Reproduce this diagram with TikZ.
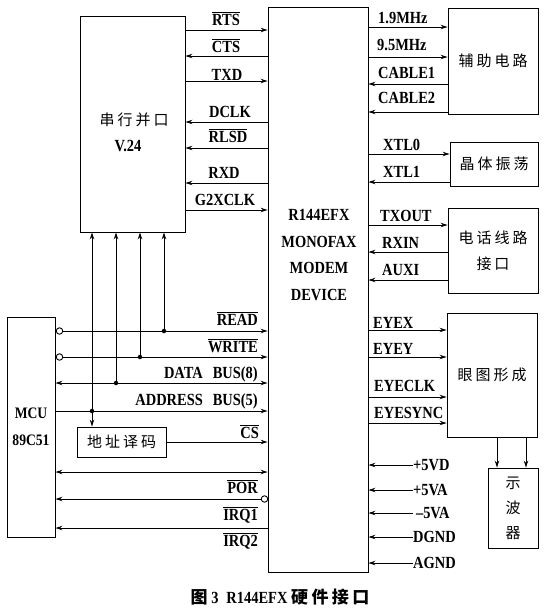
\documentclass[tikz,border=0pt]{standalone}
\usepackage{fontspec}
\setmainfont[FakeStretch=0.85]{Liberation Serif}
\newfontfamily\cjk[LetterSpace=20]{Noto Sans CJK SC}
\usetikzlibrary{arrows.meta, positioning}
\newcommand{\negsig}[1]{$\overline{\mbox{#1}}$}
\tikzset{
	blk/.style={rectangle, draw, line width=0.9pt, inner sep=0pt},
	cn/.style={font=\fontsize{15}{26}\selectfont\cjk, align=center, inner sep=0pt},
	txt/.style={font=\fontsize{17}{26.7}\selectfont\bfseries, align=center, inner sep=0pt},
	lbl/.style={font=\fontsize{17}{18}\selectfont\bfseries, inner sep=0pt},
	arr/.style={-{Stealth[length=7pt, width=4.5pt]}, line width=0.9pt},
	dbl/.style={{Stealth[length=7pt, width=4.5pt]}-{Stealth[length=7pt, width=4.5pt]}, line width=0.9pt},
	bubble/.style={circle, draw, line width=0.9pt, fill=white, minimum size=6.5pt, inner sep=0pt},
	jdot/.style={circle, fill, minimum size=4.5pt, inner sep=0pt},
}
\begin{document}
\begin{tikzpicture}[x=1pt, y=-1pt]
		\useasboundingbox (0,0) rectangle (546,611);
		\node[blk, minimum width=105pt, minimum height=216pt] (ser) at (132.5,124) {};
		\node[cn] (sertxt) at (134,120) {串行并口};
		\node[txt] (v24) at (128,146) {V.24};
		\node[blk, minimum width=100pt, minimum height=565pt] (modem) at (318,289.5) {};
		\node[txt] (modemtxt) at (319,255) {R144EFX\\MONOFAX\\MODEM\\DEVICE};
		\node[blk, cn, minimum width=90pt, minimum height=106pt] (aux) at (493,61) {辅助电路};
		\node[blk, cn, minimum width=88pt, minimum height=44pt] (xtal) at (494,164) {晶体振荡};
		\node[blk, cn, minimum width=90pt, minimum height=85pt] (phone) at (493,250.5) {电话线路\\接口};
		\node[blk, cn, minimum width=90pt, minimum height=124pt] (eye) at (492,375) {眼图形成};
		\node[blk, cn, font=\fontsize{15}{25}\selectfont\cjk, minimum width=50pt, minimum height=80pt] (scope) at (513,508) {示\\波\\器};
		\node[blk, txt, font=\fontsize{16}{27}\selectfont\bfseries, minimum width=48pt, minimum height=220pt] (mcu) at (31,427) {MCU\\89C51};
		\node[blk, cn, minimum width=89pt, minimum height=30pt] (dec) at (121.5,442) {地址译码};
		\draw[arr] (ser.east |- 0,30) -- (modem.west |- 0,30);
		\draw[arr] (modem.west |- 0,56) -- (ser.east |- 0,56);
		\draw[arr] (ser.east |- 0,81) -- (modem.west |- 0,81);
		\draw[arr] (modem.west |- 0,122) -- (ser.east |- 0,122);
		\draw[arr] (modem.west |- 0,148) -- (ser.east |- 0,148);
		\draw[arr] (modem.west |- 0,183) -- (ser.east |- 0,183);
		\draw[arr] (ser.east |- 0,210) -- (modem.west |- 0,210);
		\node[lbl, anchor=base] (lrts) at (226,25) {\negsig{RTS}};
		\node[lbl, anchor=base] (lcts) at (226,52) {\negsig{CTS}};
		\node[lbl, anchor=base] (ltxd) at (227,80) {TXD};
		\node[lbl, anchor=base] (ldclk) at (230,117) {DCLK};
		\node[lbl, anchor=base] (lrlsd) at (228,142) {\negsig{RLSD}};
		\node[lbl, anchor=base] (lrxd) at (224,178) {RXD};
		\node[lbl, anchor=base] (lg2x) at (225,205) {G2XCLK};
		\draw[arr] (modem.east |- 0,27) -- (aux.west |- 0,27);
		\draw[arr] (modem.east |- 0,57) -- (aux.west |- 0,57);
		\draw[arr] (aux.west |- 0,84) -- (modem.east |- 0,84);
		\draw[arr] (aux.west |- 0,112) -- (modem.east |- 0,112);
		\draw[arr] (modem.east |- 0,154) -- (xtal.west |- 0,154);
		\draw[arr] (xtal.west |- 0,182) -- (modem.east |- 0,182);
		\draw[arr] (modem.east |- 0,225) -- (phone.west |- 0,225);
		\draw[arr] (phone.west |- 0,252) -- (modem.east |- 0,252);
		\draw[arr] (phone.west |- 0,280) -- (modem.east |- 0,280);
		\draw[arr] (modem.east |- 0,330) -- (eye.west |- 0,330);
		\draw[arr] (modem.east |- 0,357) -- (eye.west |- 0,357);
		\draw[arr] (modem.east |- 0,397) -- (eye.west |- 0,397);
		\draw[arr] (modem.east |- 0,423) -- (eye.west |- 0,423);
		\node[lbl, anchor=base west] (l19) at (378,23) {1.9MHz};
		\node[lbl, anchor=base west] (l95) at (377,50) {9.5MHz};
		\node[lbl, anchor=base west] (lcab1) at (378,78) {CABLE1};
		\node[lbl, anchor=base west] (lcab2) at (378,103) {CABLE2};
		\node[lbl, anchor=base west] (lxtl0) at (383,150) {XTL0};
		\node[lbl, anchor=base west] (lxtl1) at (383,177) {XTL1};
		\node[lbl, anchor=base west] (ltxout) at (380,221) {TXOUT};
		\node[lbl, anchor=base west] (lrxin) at (382,248) {RXIN};
		\node[lbl, anchor=base west] (lauxi) at (382,275) {AUXI};
		\node[lbl, anchor=base west] (leyex) at (373,328) {EYEX};
		\node[lbl, anchor=base west] (leyey) at (373,354) {EYEY};
		\node[lbl, anchor=base west] (leyeclk) at (374,391) {EYECLK};
		\node[lbl, anchor=base west] (leyesync) at (374,418) {EYESYNC};
		\draw[arr] (eye.south -| 497,0) -- (scope.north -| 497,0);
		\draw[arr] (eye.south -| 526,0) -- (scope.north -| 526,0);
		\node[lbl, anchor=west] (p5vd) at (413,465) {+5VD};
		\node[lbl, anchor=west] (p5va) at (413,490) {+5VA};
		\node[lbl, anchor=west] (m5va) at (413,513) {\,--5VA};
		\node[lbl, anchor=west] (dgnd) at (413,537) {DGND};
		\node[lbl, anchor=west] (agnd) at (413,563) {AGND};
		\draw[arr] (p5vd.west) -- (modem.east |- p5vd.west);
		\draw[arr] (p5va.west) -- (modem.east |- p5va.west);
		\draw[arr] (m5va.west) -- (modem.east |- m5va.west);
		\draw[arr] (dgnd.west) -- (modem.east |- dgnd.west);
		\draw[arr] (agnd.west) -- (modem.east |- agnd.west);
		\node[bubble] (brd) at (59.5,331) {};
		\node[bubble] (bwr) at (59.5,357) {};
		\draw[arr] (brd.east) -- (modem.west |- brd.east);
		\draw[arr] (bwr.east) -- (modem.west |- bwr.east);
		\draw[dbl] (mcu.east |- 0,383) -- (modem.west |- 0,383);
		\draw[arr] (mcu.east |- 0,411) -- (modem.west |- 0,411);
		\node[jdot] (drd) at (164,331) {};
		\node[jdot] (dwr) at (140,357) {};
		\node[jdot] (ddat) at (116,383) {};
		\node[jdot] (dadr) at (92,411) {};
		\draw[arr] (drd) -- (drd |- ser.south);
		\draw[arr] (dwr) -- (dwr |- ser.south);
		\draw[arr] (ddat) -- (ddat |- ser.south);
		\draw[arr] (dadr) -- (dadr |- ser.south);
		\draw[arr] (dadr) -- (dadr |- dec.north);
		\draw[arr] (dec.east) -- (modem.west |- dec.east);
		\draw[dbl] (mcu.east |- 0,472) -- (modem.west |- 0,472);
		\node[bubble] (bpor) at (264.5,499) {};
		\draw[arr] (bpor.west) -- (mcu.east |- bpor.west);
		\draw[arr] (modem.west |- 0,528) -- (mcu.east |- 0,528);
		\node[lbl, anchor=base east] (lrd) at (258,325) {\negsig{READ}};
		\node[lbl, anchor=base east] (lwr) at (258,352) {\negsig{WRITE}};
		\node[lbl, anchor=base east] (ldat) at (258,378) {DATA\hspace{10pt}BUS(8)};
		\node[lbl, anchor=base east] (ladr) at (258,405) {ADDRESS\hspace{10pt}BUS(5)};
		\node[lbl, anchor=base east] (lcs) at (259,438) {\negsig{CS}};
		\node[lbl, anchor=base east] (lpor) at (258,493) {\negsig{POR}};
		\node[lbl, anchor=base east] (lirq1) at (258,520) {\negsig{IRQ1}};
		\node[lbl, anchor=base east] (lirq2) at (258,546) {\negsig{IRQ2}};
		\node[lbl, anchor=base] (cap) at (280,603) {{\cjk 图} 3\hspace{8pt}R144EFX {\cjk 硬件接口}};
	\end{tikzpicture}
\end{document}
